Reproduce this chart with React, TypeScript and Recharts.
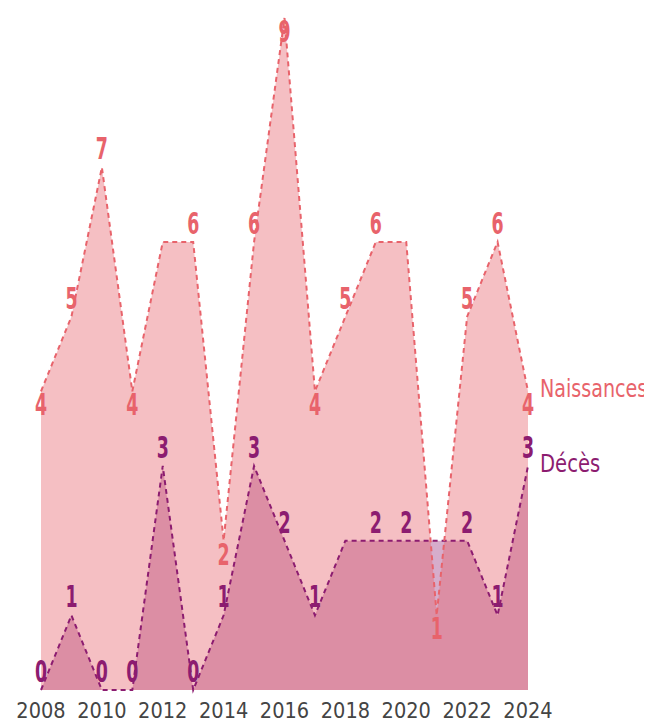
import React from 'react';
import { ComposedChart, Area, Line, XAxis, YAxis, LabelList } from 'recharts';

const years = [2008, 2009, 2010, 2011, 2012, 2013, 2014, 2015, 2016, 2017, 2018, 2019, 2020, 2021, 2022, 2023, 2024];
const naissances = [4, 5, 7, 4, 6, 6, 2, 6, 9, 4, 5, 6, 6, 1, 5, 6, 4];
const deces = [0, 1, 0, 0, 3, 0, 1, 3, 2, 1, 2, 2, 2, 2, 2, 1, 3];
const yearTicks = [2008, 2010, 2012, 2014, 2016, 2018, 2020, 2022, 2024];
// labels not shown on the original
const hiddenNaissances = [2012, 2020];
const hiddenDeces = [2018, 2021];

const data = years.map((year, i) => ({ year, naissances: naissances[i], deces: deces[i] }));

const BIRTH = '#e8636b';
const DEATH = '#8c1c70';
const FONT = '"DejaVu Sans", sans-serif';
const maxBirth = Math.max(...naissances);

// no condensed font available, so squeeze the glyphs horizontally
function Narrow({ x, y, scale, anchor = 'middle', color, size, bold = false, children }: any) {
  return (
    <text transform={`translate(${x},${y}) scale(${scale},1)`} textAnchor={anchor} fill={color}
      fontFamily={FONT} fontSize={size} fontWeight={bold ? 'bold' : 'normal'}>
      {children}
    </text>
  );
}

function birthLabel(props: any) {
  const { x, y, value, index } = props;
  if (x == null || y == null) return null;
  const last = index === years.length - 1;
  const prev = index > 0 ? naissances[index - 1] : Infinity;
  const next = index < naissances.length - 1 ? naissances[index + 1] : Infinity;
  const below = (value <= prev && value <= next) || value === maxBirth;
  const hidden = hiddenNaissances.includes(years[index]);
  return (
    <g>
      {!hidden && (
        <Narrow x={x} y={below ? y + 24 : y - 8} scale={0.58} color={BIRTH} size={30} bold>
          {value}
        </Narrow>
      )}
      {last && (
        <Narrow x={x + 12} y={y + 6} scale={0.78} anchor="start" color={BIRTH} size={24.5}>
          Naissances
        </Narrow>
      )}
    </g>
  );
}

function deathLabel(props: any) {
  const { x, y, value, index } = props;
  if (x == null || y == null) return null;
  const last = index === years.length - 1;
  const hidden = hiddenDeces.includes(years[index]);
  return (
    <g>
      {!hidden && (
        <Narrow x={x} y={y - 8} scale={0.58} color={DEATH} size={30} bold>
          {value}
        </Narrow>
      )}
      {last && (
        <Narrow x={x + 12} y={y + 6} scale={0.8} anchor="start" color={DEATH} size={24.5}>
          Décès
        </Narrow>
      )}
    </g>
  );
}

function YearTick(props: any) {
  const { x, y, payload } = props;
  return (
    <Narrow x={x} y={y + 20} scale={0.88} color="#444" size={22}>
      {payload.value}
    </Narrow>
  );
}

export default function App() {
  return (
    <div style={{ width: 644, height: 714, overflow: 'visible' }}>
      <ComposedChart width={644} height={714} data={data} style={{ overflow: 'visible' }}
        margin={{ top: 10, right: 124, left: 33, bottom: 0 }}>
        <XAxis dataKey="year" type="number" domain={[2008, 2024]} ticks={yearTicks}
          axisLine={false} tickLine={false} height={32} tick={<YearTick />} interval={0} />
        <YAxis hide domain={[0, 9]} />
        <Area type="linear" dataKey="deces" stroke="none" fill={DEATH} fillOpacity={0.36}
          isAnimationActive={false} />
        <Area type="linear" dataKey="naissances" stroke="none" fill="#e65f69" fillOpacity={0.4}
          isAnimationActive={false} />
        <Line type="linear" dataKey="deces" stroke={DEATH} strokeWidth={2} strokeDasharray="5 4"
          dot={false} activeDot={false} isAnimationActive={false}>
          <LabelList dataKey="deces" content={deathLabel} />
        </Line>
        <Line type="linear" dataKey="naissances" stroke={BIRTH} strokeWidth={2} strokeDasharray="5 4"
          dot={false} activeDot={false} isAnimationActive={false}>
          <LabelList dataKey="naissances" content={birthLabel} />
        </Line>
      </ComposedChart>
    </div>
  );
}
